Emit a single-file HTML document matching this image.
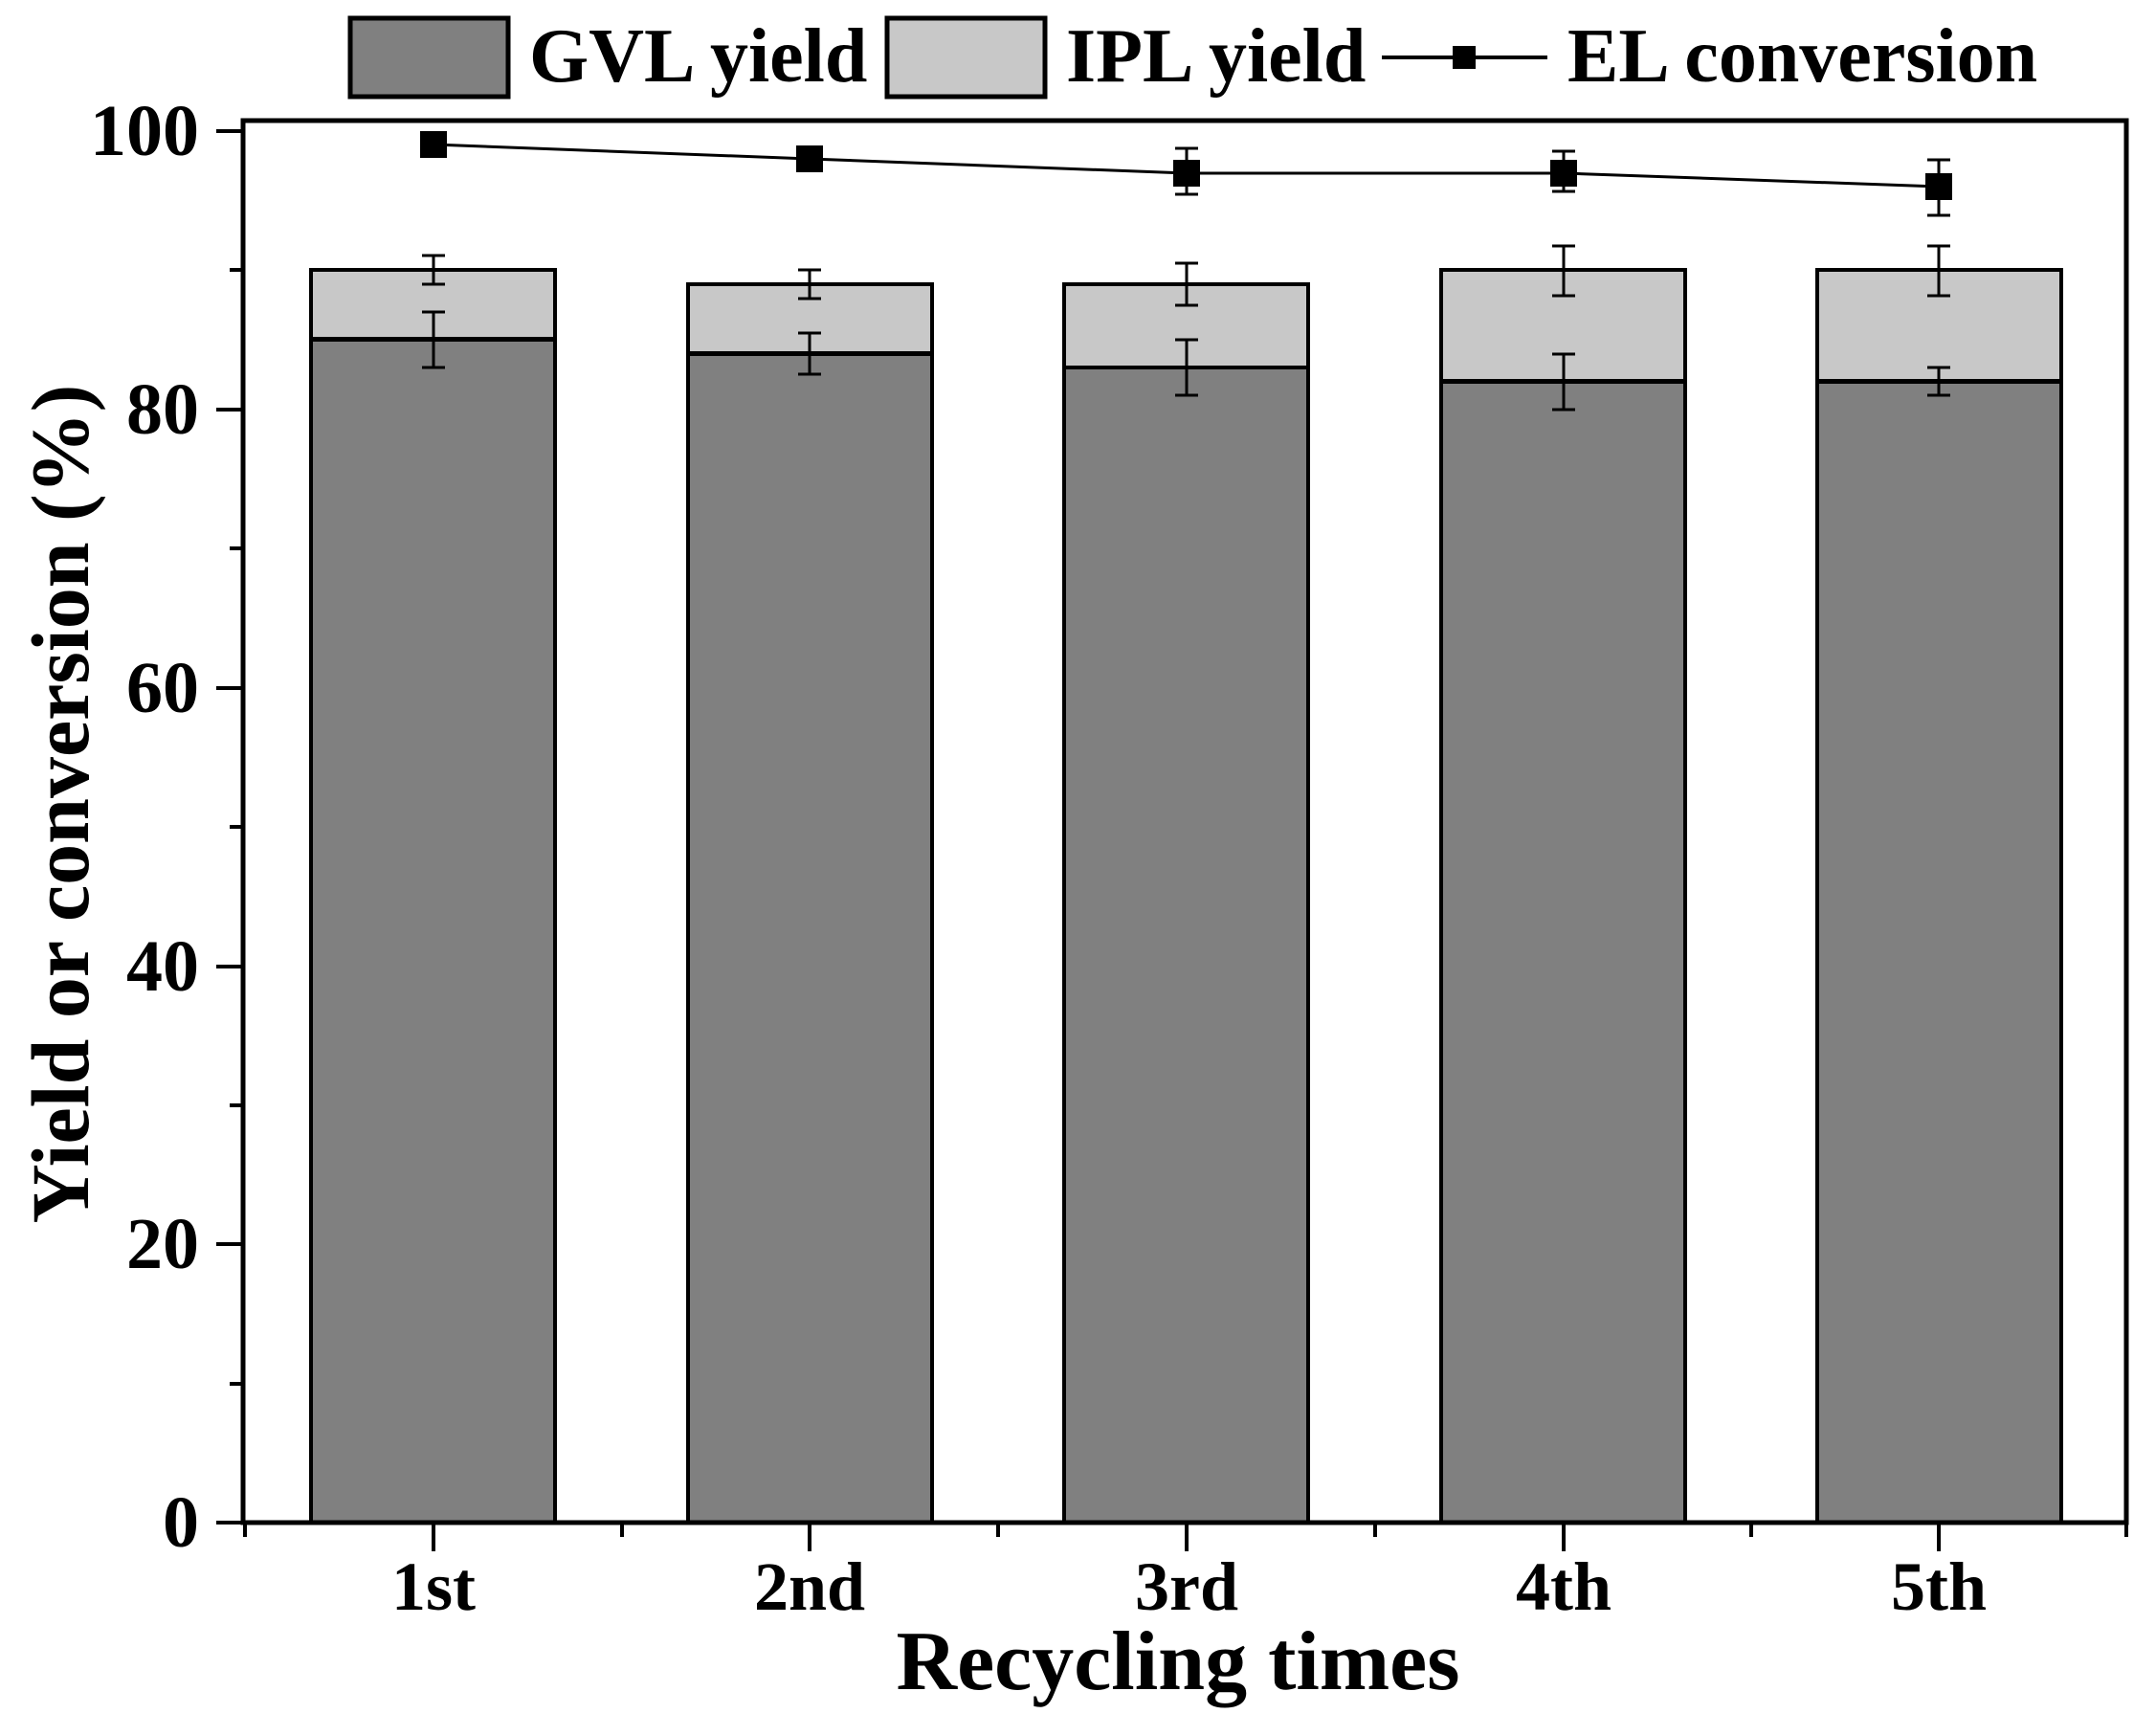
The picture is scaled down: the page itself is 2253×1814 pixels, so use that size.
<!DOCTYPE html>
<html><head><meta charset="utf-8"><style>html,body{margin:0;padding:0;background:#fff}svg{display:block}</style></head>
<body>
<svg width="2253" height="1814" viewBox="0 0 2253 1814" xmlns="http://www.w3.org/2000/svg" font-family="Liberation Serif, serif" font-weight="bold">
<rect width="2253" height="1814" fill="#fff"/>
<!-- legend -->
<rect x="366" y="19" width="165" height="82" fill="#808080" stroke="#000" stroke-width="5"/>
<text x="553" y="85" font-size="80">GVL yield</text>
<rect x="927" y="19" width="165" height="82" fill="#c8c8c8" stroke="#000" stroke-width="5"/>
<text x="1114" y="85" font-size="80">IPL yield</text>
<line x1="1444" y1="60" x2="1617" y2="60" stroke="#000" stroke-width="4"/>
<rect x="1518" y="48" width="24" height="24" fill="#000"/>
<text x="1638" y="85" font-size="80">EL conversion</text>

<g stroke="#000" stroke-width="4">
<rect x="325" y="282" width="255" height="72" fill="#c8c8c8"/>
<rect x="325" y="355" width="255" height="1236" fill="#808080"/>
<rect x="719" y="297" width="255" height="72" fill="#c8c8c8"/>
<rect x="719" y="370" width="255" height="1221" fill="#808080"/>
<rect x="1112" y="297" width="255" height="87" fill="#c8c8c8"/>
<rect x="1112" y="384" width="255" height="1207" fill="#808080"/>
<rect x="1506" y="282" width="255" height="116" fill="#c8c8c8"/>
<rect x="1506" y="399" width="255" height="1192" fill="#808080"/>
<rect x="1899" y="282" width="255" height="116" fill="#c8c8c8"/>
<rect x="1899" y="399" width="255" height="1192" fill="#808080"/>
</g>

<g stroke="#000" stroke-width="3" fill="none">
<path d="M453 267V297M441 267H465M441 297H465"/>
<path d="M453 326V384M441 326H465M441 384H465"/>
<path d="M846 282V312M834 282H858M834 312H858"/>
<path d="M846 348V391M834 348H858M834 391H858"/>
<path d="M1240 275V319M1228 275H1252M1228 319H1252"/>
<path d="M1240 355V413M1228 355H1252M1228 413H1252"/>
<path d="M1634 257V309M1622 257H1646M1622 309H1646"/>
<path d="M1634 370V428M1622 370H1646M1622 428H1646"/>
<path d="M2026 257V309M2014 257H2038M2014 309H2038"/>
<path d="M2026 384V413M2014 384H2038M2014 413H2038"/>
<path d="M453 140V162M441 140H465M441 162H465"/>
<path d="M846 155V177M834 155H858M834 177H858"/>
<path d="M1240 155V203M1228 155H1252M1228 203H1252"/>
<path d="M1634 158V200M1622 158H1646M1622 200H1646"/>
<path d="M2026 167V225M2014 167H2038M2014 225H2038"/>
</g>
<polyline points="453,151 846,166 1240,181 1634,181 2026,195" fill="none" stroke="#000" stroke-width="3"/>
<g fill="#000">
<rect x="439" y="137" width="28" height="28"/>
<rect x="832" y="152" width="28" height="28"/>
<rect x="1226" y="167" width="28" height="28"/>
<rect x="1620" y="167" width="28" height="28"/>
<rect x="2012" y="181" width="28" height="28"/>
</g>

<rect x="254" y="126" width="1968" height="1465" fill="none" stroke="#000" stroke-width="5"/>
<g stroke="#000" stroke-width="4">
<path d="M226 1591H254M226 1300H254M226 1010H254M226 719H254M226 428H254M226 137H254"/>
<path d="M240 1446H254M240 1155H254M240 864H254M240 573H254M240 282H254"/>
<path d="M453 1591V1621M846 1591V1621M1240 1591V1621M1634 1591V1621M2026 1591V1621"/>
<path d="M256 1591V1606M650 1591V1606M1043 1591V1606M1437 1591V1606M1830 1591V1606M2222 1591V1606"/>
</g>
<g font-size="76" text-anchor="end">
<text x="208" y="1616">0</text>
<text x="208" y="1325">20</text>
<text x="208" y="1035">40</text>
<text x="208" y="744">60</text>
<text x="208" y="453">80</text>
<text x="208" y="162">100</text>
</g>
<g font-size="72" text-anchor="middle">
<text x="453" y="1682">1st</text>
<text x="846" y="1682">2nd</text>
<text x="1240" y="1682">3rd</text>
<text x="1634" y="1682">4th</text>
<text x="2026" y="1682">5th</text>
</g>
<text x="1231" y="1765" font-size="88" text-anchor="middle">Recycling times</text>
<text transform="translate(92,840) rotate(-90)" font-size="86" text-anchor="middle">Yield or conversion (%)</text>
</svg>
</body></html>
